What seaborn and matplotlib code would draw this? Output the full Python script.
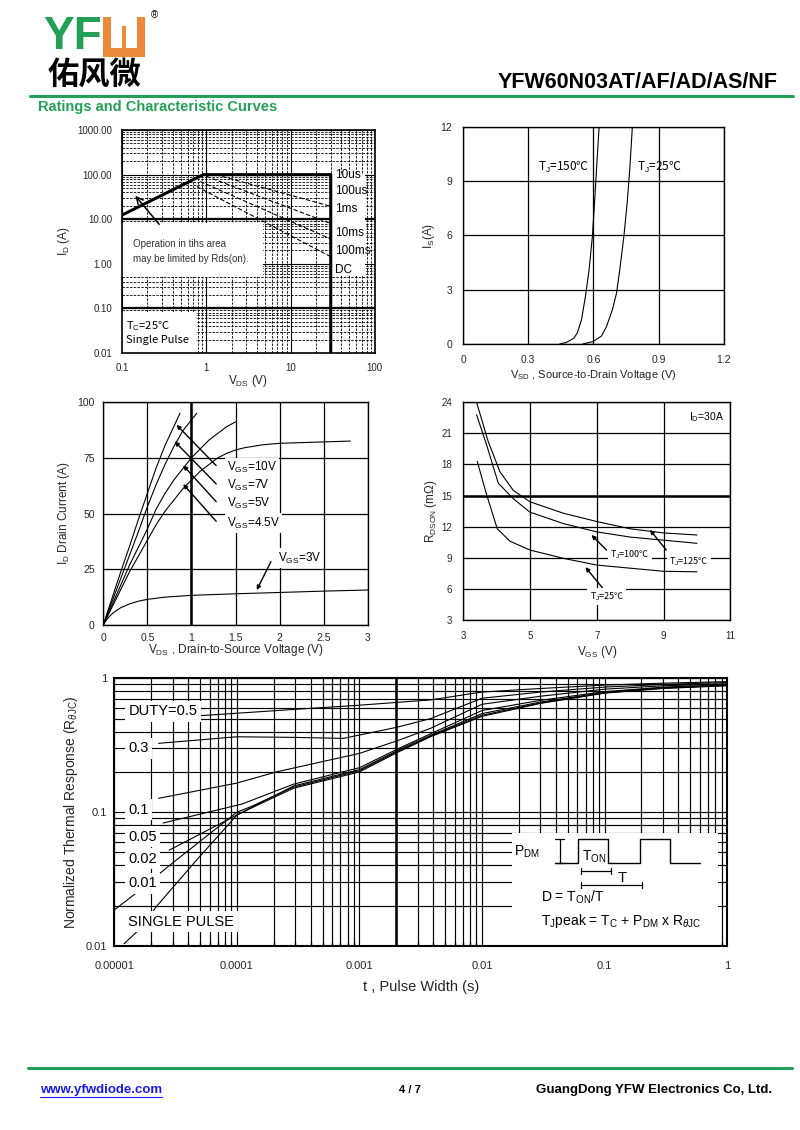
import numpy as np
import matplotlib
matplotlib.use('Agg')
import matplotlib.pyplot as plt
import seaborn as sns
from matplotlib.patches import Rectangle
from matplotlib.lines import Line2D
from matplotlib.ticker import LogLocator, NullFormatter

sns.set_theme(style='white')
plt.rcParams['font.family'] = ['Liberation Sans', 'DejaVu Sans', 'Noto Sans CJK SC']
plt.rcParams['mathtext.fontset'] = 'custom'
plt.rcParams['mathtext.rm'] = 'Liberation Sans'
plt.rcParams['mathtext.it'] = 'Liberation Sans:italic'
plt.rcParams['mathtext.bf'] = 'Liberation Sans:bold'
plt.rcParams['axes.edgecolor'] = 'black'
plt.rcParams['text.color'] = 'black'

# ---------------- data ----------------
# Safe operating area
soa_limit_v = [0.1, 0.92, 30, 30]
soa_limit_i = [12.4, 100, 100, 0.01]
soa_100us_v = [1.3, 30]
soa_100us_i = [100, 19.5]
soa_1ms_v = [1.0, 30]
soa_1ms_i = [92, 8.0]
soa_10ms_v = [0.85, 30]
soa_10ms_i = [70, 3.6]
soa_100ms_v = [0.77, 30]
soa_100ms_i = [54, 1.45]
soa_labels = ['10us', '100us', '1ms', '10ms', '100ms', 'DC']
soa_label_i = [100, 42, 17.3, 4.8, 1.9, 0.72]

# Body diode forward characteristic
vsd_150 = [0.445, 0.476, 0.509, 0.525, 0.545, 0.563, 0.580, 0.595, 0.605, 0.614, 0.626]
is_150 = [0, 0.09, 0.31, 0.59, 1.33, 2.62, 4.1, 5.94, 7.79, 9.63, 12]
vsd_25 = [0.552, 0.598, 0.637, 0.660, 0.687, 0.706, 0.721, 0.740, 0.755, 0.767, 0.779]
is_25 = [0, 0.13, 0.44, 0.96, 1.88, 2.8, 4.1, 5.94, 7.79, 9.63, 12]

# Output characteristics
vds_10v = [0, 0.1, 0.2, 0.3, 0.4, 0.5, 0.6, 0.7, 0.8, 0.87]
id_10v = [0, 12, 24, 35.5, 47.5, 59, 70.5, 80.5, 89, 95]
vds_7v = [0, 0.1, 0.2, 0.3, 0.4, 0.5, 0.6, 0.7, 0.8, 0.9, 1.0, 1.06]
id_7v = [0, 10.5, 21, 31.5, 42, 53, 63, 72, 80, 87, 92, 95]
vds_5v = [0, 0.1, 0.2, 0.3, 0.4, 0.5, 0.6, 0.7, 0.8, 0.9, 1.0, 1.1, 1.2, 1.3, 1.4, 1.51]
id_5v = [0, 9, 18, 27, 35, 43, 52, 59, 65, 70, 75, 79, 83, 86, 89, 91.3]
vds_45v = [0, 0.1, 0.2, 0.3, 0.4, 0.5, 0.6, 0.7, 0.8, 0.9, 1.0, 1.1, 1.2, 1.3, 1.4,
           1.5, 1.6, 1.8, 2.0, 2.4, 2.8]
id_45v = [0, 8, 16, 24, 31, 38, 45, 51, 56, 61, 65, 69, 72, 75, 77,
          78.5, 79.5, 80.8, 81.5, 82, 82.5]
vds_3v = [0, 0.05, 0.1, 0.15, 0.2, 0.3, 0.4, 0.5, 0.7, 1.0, 1.5, 2.0, 2.5, 3.0]
id_3v = [0, 3, 5, 6.5, 7.8, 9.5, 10.7, 11.5, 12.5, 13.3, 14, 14.6, 15.2, 15.7]

# On-resistance vs gate voltage (ID = 30 A)
vgs_125 = [3.4, 3.75, 4.1, 4.5, 5, 6, 7, 8, 9, 10]
rds_125 = [24, 20.2, 17.3, 15.5, 14.4, 13.3, 12.5, 11.8, 11.4, 11.2]
vgs_100 = [3.4, 3.7, 4.05, 4.5, 5, 6, 7, 8, 9, 10]
rds_100 = [22.8, 19.9, 16.2, 14.7, 13.4, 12.3, 11.5, 11.0, 10.7, 10.4]
vgs_25 = [3.42, 3.7, 4.02, 4.4, 5, 6, 7, 8, 9, 10]
rds_25 = [18.3, 15.1, 11.8, 10.6, 9.75, 8.95, 8.3, 8.0, 7.7, 7.65]

# Transient thermal impedance
th_05_t = [5.0e-5, 4.0e-4, 1.0e-3, 3.8e-3, 1.0e-2, 3.0e-2, 1.0e-1, 3.0e-1, 1.0]
th_05_z = [0.526, 0.597, 0.63, 0.69, 0.79, 0.84, 0.89, 0.92, 0.945]
th_03_t = [2.3e-5, 1.0e-4, 3.0e-4, 7.4e-4, 2.0e-3, 3.8e-3, 1.0e-2, 3.0e-2, 1.0e-1, 3.0e-1, 1.0]
th_03_z = [0.327, 0.366, 0.362, 0.356, 0.43, 0.50, 0.71, 0.79, 0.86, 0.90, 0.93]
th_01_t = [2.3e-5, 1.0e-4, 2.1e-4, 1.0e-3, 2.1e-3, 3.8e-3, 1.0e-2, 3.0e-2, 1.0e-1, 3.0e-1, 1.0]
th_01_z = [0.127, 0.165, 0.200, 0.275, 0.345, 0.423, 0.64, 0.735, 0.83, 0.88, 0.91]
th_005_t = [2.5e-5, 1.1e-4, 2.9e-4, 1.0e-3, 2.1e-3, 3.8e-3, 1.0e-2, 3.0e-2, 1.0e-1, 3.0e-1, 1.0]
th_005_z = [0.083, 0.115, 0.162, 0.215, 0.300, 0.385, 0.575, 0.685, 0.795, 0.86, 0.895]
th_002_t = [2.8e-5, 1.06e-4, 2.9e-4, 1.0e-3, 2.1e-3, 3.8e-3, 1.0e-2, 3.0e-2, 1.0e-1, 3.0e-1, 1.0]
th_002_z = [0.052, 0.098, 0.157, 0.208, 0.293, 0.375, 0.545, 0.665, 0.785, 0.85, 0.89]
th_001_t = [1.0e-5, 1.5e-5, 2.8e-5, 1.0e-4, 1.3e-4, 2.9e-4, 1.0e-3, 2.1e-3, 3.8e-3,
            1.0e-2, 3.0e-2, 1.0e-1, 3.0e-1, 1.0]
th_001_z = [0.0186, 0.0248, 0.0398, 0.100, 0.110, 0.154, 0.204, 0.288, 0.370,
            0.53, 0.655, 0.78, 0.845, 0.885]
th_sp_t = [1.2e-5, 1.7e-5, 2.2e-5, 4.7e-5, 1.0e-4, 1.3e-4, 2.9e-4, 1.0e-3, 2.1e-3, 3.8e-3,
           1.0e-2, 3.0e-2, 1.0e-1, 3.0e-1, 1.0]
th_sp_z = [0.0104, 0.014, 0.0197, 0.044, 0.095, 0.107, 0.151, 0.200, 0.283, 0.366,
           0.52, 0.65, 0.775, 0.84, 0.88]
th_labels = ['DUTY=0.5', '0.3', '0.1', '0.05', '0.02', '0.01', 'SINGLE PULSE']
th_label_z = [0.57, 0.30, 0.104, 0.0655, 0.045, 0.0294, 0.0152]

GREEN = '#23a055'
ORANGE = '#ec8a3a'
CJK = ['Noto Sans CJK SC', 'DejaVu Sans']   # for the ℃ sign


def P(x, y):
    # page pixel -> figure fraction
    return x / 800, 1 - y / 1130


def curve(ax, x, y, lw=0.8, ls='-'):
    sns.lineplot(x=x, y=y, ax=ax, sort=False, estimator=None, color='black',
                 lw=lw, linestyle=ls, legend=False)


def frame(ax, lw=1.0):
    for s in ax.spines.values():
        s.set_visible(True)
        s.set_color('black')
        s.set_linewidth(lw)
        s.set_zorder(4)
    ax.set_facecolor('white')


fig = plt.figure(figsize=(8, 11.3), dpi=100)

# ---------------- page header ----------------
fig.text(*P(43, 37), 'YF', color=GREEN, fontsize=33, fontweight='bold', va='center', ha='left')
for (x0, y0, w, h, c) in [(103, 17, 42, 40, ORANGE), (111, 17, 26, 31, 'white'),
                          (122, 26, 4, 22, ORANGE)]:
    fig.add_artist(Rectangle(P(x0, y0 + h), w / 800, h / 1130, transform=fig.transFigure,
                             facecolor=c, edgecolor='none'))
fig.text(*P(154, 15), '®', fontsize=7, va='center', ha='center')
fig.text(*P(95, 76), '佑风微', family=['Noto Sans CJK SC'], fontsize=22.5, fontweight='bold',
         ha='center', va='center')
fig.text(*P(778, 82), 'YFW60N03AT/AF/AD/AS/NF', ha='right', va='center', fontsize=15.5,
         fontweight='bold')
fig.add_artist(Line2D([30 / 800, 793 / 800], [1 - 96 / 1130] * 2, color=GREEN, lw=2.2,
                      transform=fig.transFigure))
fig.text(*P(38, 107), 'Ratings and Characteristic Curves', color=GREEN, fontsize=10.5,
         fontweight='bold', va='center', ha='left')

# ---------------- footer ----------------
fig.add_artist(Line2D([28 / 800, 792 / 800], [1 - 1068 / 1130] * 2, color=GREEN, lw=2.2,
                      transform=fig.transFigure))
url = fig.text(*P(40, 1090), 'www.yfwdiode.com', color='#1a1aee', fontsize=9.5,
               fontweight='bold', va='center', ha='left')
fig.text(*P(410, 1090), '4 / 7', fontsize=8, fontweight='bold', va='center', ha='center')
fig.text(*P(772, 1090), 'GuangDong YFW Electronics Co, Ltd.', fontsize=9.5, fontweight='bold',
         va='center', ha='right')
fig.canvas.draw()
bb = url.get_window_extent().transformed(fig.transFigure.inverted())
fig.add_artist(Line2D([bb.x0, bb.x1], [bb.y0 - 0.001] * 2, color='#1a1aee', lw=0.8,
                      transform=fig.transFigure))

# ---------------- safe operating area ----------------
ax1 = fig.add_axes([0.1525, 0.6876, 0.316, 0.1973])
ax1.set_xscale('log')
ax1.set_yscale('log')
ax1.set_xlim(0.1, 100)
ax1.set_ylim(0.01, 1000)
ax1.xaxis.set_minor_locator(LogLocator(subs=np.arange(2, 10)))
ax1.yaxis.set_minor_locator(LogLocator(subs=np.arange(2, 10), numticks=20))
ax1.xaxis.set_minor_formatter(NullFormatter())
ax1.yaxis.set_minor_formatter(NullFormatter())
ax1.grid(which='major', color='black', lw=0.8)
ax1.grid(which='minor', color='black', lw=0.6, ls=(0, (3, 1.5)))
ax1.axhline(10, color='black', lw=1.6, zorder=1.2)
ax1.axhline(0.1, color='black', lw=1.6, zorder=1.2)
ax1.add_patch(Rectangle((0.1, 0.51), 4.6, 7.6, facecolor='white', edgecolor='none', zorder=1.5))
ax1.add_patch(Rectangle((0.1, 0.01), 0.66, 0.075, facecolor='white', edgecolor='none', zorder=1.5))
ax1.add_patch(Rectangle((31, 0.55), 45, 97, facecolor='white', edgecolor='none', zorder=1.5))
curve(ax1, soa_limit_v, soa_limit_i, lw=2.2)
for v, i in [(soa_100us_v, soa_100us_i), (soa_1ms_v, soa_1ms_i), (soa_10ms_v, soa_10ms_i),
             (soa_100ms_v, soa_100ms_i)]:
    curve(ax1, v, i, lw=0.8, ls=(0, (4, 2)))
for lab, yv in zip(soa_labels, soa_label_i):
    ax1.text(34, yv, lab, fontsize=8.5, va='center', ha='left', zorder=5)
ax1.text(0.135, 1.9, 'Operation in tihs area\nmay be limited by Rds(on).', fontsize=7,
         color='#333333', va='center', ha='left', linespacing=1.7, zorder=5)
ax1.text(0.112, 0.03, 'T$_\\mathrm{C}$=25℃\nSingle Pulse', fontsize=8, va='center', ha='left',
         linespacing=1.2, zorder=5, family=CJK)
ax1.annotate('', xy=(0.137, 37.5), xytext=(0.29, 6.9),
             arrowprops=dict(arrowstyle='->', color='black', lw=1.1), zorder=5)
ax1.set_xticks([0.1, 1, 10, 100])
ax1.set_xticklabels(['0.1', '1', '10', '100'])
ax1.set_yticks([0.01, 0.1, 1, 10, 100, 1000])
ax1.set_yticklabels(['0.01', '0.10', '1.00', '10.00', '100.00', '1000.00'])
ax1.tick_params(which='both', length=0, labelsize=7, pad=7)
ax1.set_xlabel('V$_\\mathrm{DS}$ (V)', fontsize=8.5, labelpad=0)
ax1.set_ylabel('I$_\\mathrm{D}$ (A)', fontsize=8.5, labelpad=4)
frame(ax1, 1.2)

# ---------------- body diode ----------------
ax2 = fig.add_axes([0.5788, 0.6956, 0.326, 0.192])
ax2.set_xlim(0, 1.2)
ax2.set_ylim(0, 12)
ax2.set_xticks([0, 0.3, 0.6, 0.9, 1.2])
ax2.set_xticklabels(['0', '0.3', '0.6', '0.9', '1.2'])
ax2.set_yticks([0, 3, 6, 9, 12])
ax2.grid(which='major', color='black', lw=0.9)
curve(ax2, vsd_150, is_150, lw=0.8)
curve(ax2, vsd_25, is_25, lw=0.8)
ax2.text(0.345, 9.8, 'T$_\\mathrm{J}$=150℃', fontsize=8.5, va='center', ha='left', family=CJK)
ax2.text(0.80, 9.8, 'T$_\\mathrm{J}$=25℃', fontsize=8.5, va='center', ha='left', family=CJK)
ax2.tick_params(length=0, labelsize=7.5, pad=8)
ax2.set_xlabel('V$_\\mathrm{SD}$ , Source-to-Drain Voltage (V)', fontsize=8, labelpad=2)
ax2.set_ylabel('I$_\\mathrm{S}$(A)', fontsize=8.5, labelpad=2)
frame(ax2, 1.0)

# ---------------- output characteristics ----------------
ax3 = fig.add_axes([0.129, 0.4469, 0.331, 0.1973])
ax3.set_xlim(0, 3)
ax3.set_ylim(0, 100)
ax3.set_xticks([0, 0.5, 1, 1.5, 2, 2.5, 3])
ax3.set_xticklabels(['0', '0.5', '1', '1.5', '2', '2.5', '3'])
ax3.set_yticks([0, 25, 50, 75, 100])
ax3.grid(which='major', color='black', lw=0.9)
ax3.axvline(1, color='black', lw=1.8, zorder=1.2)
for v, i in [(vds_10v, id_10v), (vds_7v, id_7v), (vds_5v, id_5v), (vds_45v, id_45v),
             (vds_3v, id_3v)]:
    curve(ax3, v, i, lw=0.8)
box = dict(facecolor='white', edgecolor='none', pad=1.5)
arrow = dict(arrowstyle='-|>', color='black', lw=1.0, mutation_scale=6, shrinkA=0, shrinkB=0)
for lab, tx, ty, ax_, ay_ in [('10V', 1.40, 70.7, 0.83, 89.8), ('7V', 1.40, 62.5, 0.81, 82.3),
                              ('5V', 1.40, 54.5, 0.906, 71.6), ('4.5V', 1.40, 45.7, 0.906, 63.2)]:
    ax3.annotate('', xy=(ax_, ay_), xytext=(1.28, ty + 0.8), arrowprops=arrow, zorder=3)
    ax3.text(tx, ty, 'V$_\\mathrm{GS}$=' + lab, fontsize=8.5, va='center', ha='left',
             bbox=box, zorder=4)
ax3.annotate('', xy=(1.74, 15.7), xytext=(1.9, 28.4), arrowprops=arrow, zorder=3)
ax3.text(1.98, 30, 'V$_\\mathrm{GS}$=3V', fontsize=8.5, va='center', ha='left', bbox=box, zorder=4)
ax3.tick_params(length=0, labelsize=7.5, pad=6)
ax3.set_xlabel('V$_\\mathrm{DS}$ , Drain-to-Source Voltage (V)', fontsize=8.5, labelpad=-1)
ax3.set_ylabel('I$_\\mathrm{D}$ Drain Current (A)', fontsize=8.5, labelpad=4)
frame(ax3, 1.0)

# ---------------- on-resistance ----------------
ax4 = fig.add_axes([0.579, 0.4513, 0.334, 0.1927])
ax4.set_xlim(3, 11)
ax4.set_ylim(3, 24)
ax4.set_xticks([3, 5, 7, 9, 11])
ax4.set_yticks([3, 6, 9, 12, 15, 18, 21, 24])
ax4.grid(which='major', color='black', lw=0.9)
ax4.axhline(15, color='black', lw=1.8, zorder=1.2)
curve(ax4, vgs_125, rds_125, lw=0.8)
curve(ax4, vgs_100, rds_100, lw=0.8)
curve(ax4, vgs_25, rds_25, lw=0.8)
ax4.text(10.8, 22.6, 'I$_\\mathrm{D}$=30A', fontsize=7.5, va='center', ha='right')
for lab, tx, ty, x0, y0, x1, y1 in [('100', 8.0, 9.3, 7.29, 9.75, 6.84, 11.2),
                                    ('125', 9.75, 8.6, 9.08, 9.75, 8.59, 11.7),
                                    ('25', 7.3, 5.25, 7.17, 6.1, 6.66, 8.1)]:
    ax4.annotate('', xy=(x1, y1), xytext=(x0, y0), arrowprops=arrow, zorder=3)
    ax4.text(tx, ty, 'T$_\\mathrm{J}$=' + lab + '℃', fontsize=6.5, va='center', ha='center',
             bbox=box, zorder=4, family=CJK)
ax4.tick_params(length=0, labelsize=7, pad=8)
ax4.set_xlabel('V$_\\mathrm{GS}$ (V)', fontsize=8.5, labelpad=2)
ax4.set_ylabel('R$_\\mathrm{DSON}$ (mΩ)', fontsize=8.5, labelpad=2)
frame(ax4, 1.0)

# ---------------- transient thermal response ----------------
ax5 = fig.add_axes([0.1429, 0.1628, 0.766, 0.2369])
ax5.set_xscale('log')
ax5.set_yscale('log')
ax5.set_xlim(1e-5, 1)
ax5.set_ylim(0.01, 1)
ax5.xaxis.set_minor_locator(LogLocator(subs=np.arange(2, 10), numticks=20))
ax5.yaxis.set_minor_locator(LogLocator(subs=np.arange(2, 10), numticks=20))
ax5.xaxis.set_minor_formatter(NullFormatter())
ax5.yaxis.set_minor_formatter(NullFormatter())
ax5.grid(which='both', color='black', lw=0.85)
ax5.axvline(0.002, color='black', lw=1.8, zorder=1.2)
ax5.add_patch(Rectangle((0.0175, 0.01), 0.85 - 0.0175, 0.06, facecolor='white',
                        edgecolor='none', zorder=1.5))
for t, z in [(th_05_t, th_05_z), (th_03_t, th_03_z), (th_01_t, th_01_z), (th_005_t, th_005_z),
             (th_002_t, th_002_z), (th_001_t, th_001_z), (th_sp_t, th_sp_z)]:
    curve(ax5, t, z, lw=0.8)
for lab, zv in zip(th_labels, th_label_z):
    ax5.text(1.3e-5, zv, lab, fontsize=10.5, va='center', ha='left',
             bbox=dict(facecolor='white', edgecolor='none', pad=2.5), zorder=4)
ax5.set_xticks([1e-5, 1e-4, 1e-3, 1e-2, 1e-1, 1])
ax5.set_xticklabels(['0.00001', '0.0001', '0.001', '0.01', '0.1', '1'])
ax5.set_yticks([0.01, 0.1, 1])
ax5.set_yticklabels(['0.01', '0.1', '1'])
ax5.tick_params(which='major', length=0, labelsize=8, pad=11)
ax5.tick_params(axis='y', which='major', pad=5)
ax5.tick_params(axis='x', which='minor', direction='in', length=3, color='black', bottom=True)
ax5.set_xlabel('t , Pulse Width (s)', fontsize=10.5, labelpad=6)
ax5.set_ylabel('Normalized Thermal Response (R$_{\\theta\\mathrm{JC}}$)', fontsize=10, labelpad=4)
frame(ax5, 1.5)

# duty-cycle sketch inside the thermal chart
wave_x = [555, 577.7, 577.7, 608.3, 608.3, 640, 640, 670, 670, 700]
wave_y = [862.7, 862.7, 839, 839, 862.7, 862.7, 839, 839, 862.7, 862.7]
fig.add_artist(Line2D([x / 800 for x in wave_x], [1 - y / 1130 for y in wave_y],
                      color='black', lw=1.0, transform=fig.transFigure))
for seg in [([559.5, 559.5], [839, 862.7]), ([555, 564], [839, 839]), ([555, 564], [862.7, 862.7]),
            ([580.7, 611], [871, 871]), ([580.7, 580.7], [868, 874]), ([611, 611], [868, 874]),
            ([580.7, 641.7], [885, 885]), ([580.7, 580.7], [882, 888]), ([641.7, 641.7], [882, 888])]:
    fig.add_artist(Line2D([x / 800 for x in seg[0]], [1 - y / 1130 for y in seg[1]],
                          color='black', lw=0.9, transform=fig.transFigure))
fig.text(*P(540, 852), 'P$_\\mathrm{DM}$', fontsize=10, va='center', ha='right')
fig.text(*P(594, 857), 'T$_\\mathrm{ON}$', fontsize=10, va='center', ha='center')
fig.text(*P(622, 878), 'T', fontsize=10.5, va='center', ha='center')
fig.text(*P(541, 897), 'D = T$_\\mathrm{ON}$/T', fontsize=10, va='center', ha='left')
fig.text(*P(541, 921), 'T$_\\mathrm{J}$peak = T$_\\mathrm{C}$ + P$_\\mathrm{DM}$ x R$_{\\theta\\mathrm{JC}}$',
         fontsize=10, va='center', ha='left')

fig.savefig('out.png', dpi=100, facecolor='white')
